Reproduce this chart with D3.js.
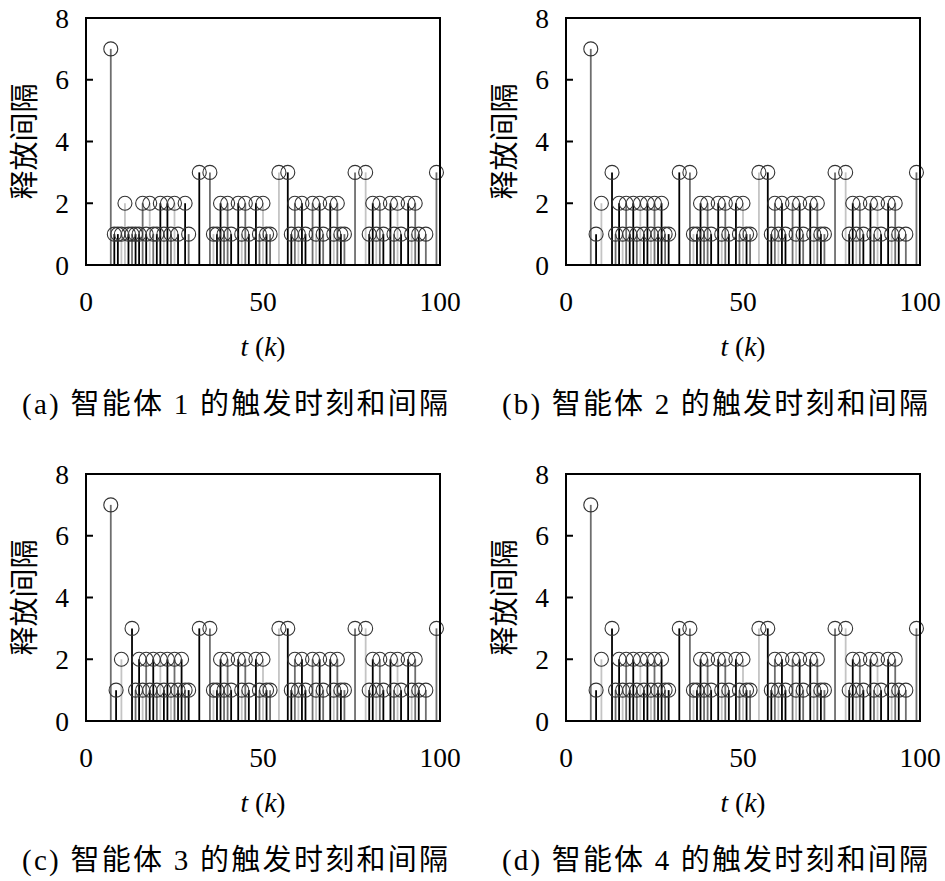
<!DOCTYPE html>
<html>
<head>
<meta charset="utf-8">
<script src="https://cdn.jsdelivr.net/npm/d3@7"></script>
<style>
  body { margin: 0; background: #fff; }
  svg { display: block; }
  .tick-label { font-family: "Liberation Serif", "Times New Roman", serif; font-size: 27.5px; }
  .ylab { font-family: "Noto Sans CJK SC", sans-serif; font-size: 29px; }
  .caption { font-family: "Liberation Serif", "Noto Sans CJK SC", serif; font-size: 29px; }
</style>
</head>
<body>
<div id="chart"></div>
<script>
// trigger times (k), release intervals, stem group (shade) for the first part of each panel
const headTimesA     = [7, 8, 9, 10, 11, 12, 13, 14, 15, 16, 17, 18, 19, 20, 21, 22, 23, 24, 25, 26, 28, 29];
const headIntervalsA = [7, 1, 1, 1,  2,  1,  1,  1,  1,  2,  1,  2,  1,  1,  2,  1,  2,  1,  2,  1,  2,  1];
const headGroupsA    = [1, 0, 0, 2,  2,  0,  1,  0,  0,  1,  0,  2,  1,  0,  0,  2,  0,  1,  2,  0,  0,  1];

const headTimesB     = [7, 8.5, 10, 13, 14, 15, 16, 17, 18, 19, 20, 21, 22, 23, 24, 25, 26, 27, 28, 29];
const headIntervalsB = [7, 1,   2,  3,  1,  2,  1,  2,  1,  2,  1,  2,  1,  2,  1,  2,  1,  2,  1,  1];
const headGroupsB    = [1, 0,   2,  0,  1,  0,  2,  1,  0,  0,  1,  2,  0,  0,  2,  1,  0,  0,  1,  0];

// remaining part, shared by the four agents
const tailTimes = [32, 35,
  36, 37, 38, 39, 40, 41, 43, 44, 45, 46, 48, 49, 50, 51, 52,
  54.5, 57,
  58, 59, 60, 61, 62, 64, 65, 66, 67, 69, 70, 71, 72, 73,
  76, 79,
  80, 81, 82, 83, 84, 86, 87, 88, 89, 91, 92, 93, 94, 96,
  99];
const tailIntervals = [3, 3,
  1, 1, 2, 1, 2, 1, 2, 1, 2, 1, 2, 1, 2, 1, 1,
  3, 3,
  1, 2, 1, 2, 1, 2, 1, 2, 1, 2, 1, 2, 1, 1,
  3, 3,
  1, 2, 1, 2, 1, 2, 1, 2, 1, 2, 1, 2, 1, 1,
  3];
const tailGroups = [0, 1,
  2, 0, 0, 1, 1, 0, 0, 2, 1, 0, 0, 1, 2, 0, 1,
  2, 0,
  0, 1, 2, 0, 0, 1, 2, 0, 1, 0, 2, 1, 0, 1,
  1, 2,
  0, 0, 2, 1, 0, 0, 1, 2, 0, 0, 2, 1, 0, 1,
  1];

const panelLetters = ['a', 'b', 'c', 'd'];
const agentIds = [1, 2, 3, 4];
const xTicks = [0, 50, 100];
const yTicks = [0, 2, 4, 6, 8];

const width = 945, height = 881;
const plotW = 354, plotH = 247;
const lefts = [86, 566, 86, 566];
const tops = [18, 18, 474, 474];

const svg = d3.select('#chart').append('svg')
    .attr('width', width)
    .attr('height', height);

const x = d3.scaleLinear().domain([0, 100]).range([0, plotW]);
const y = d3.scaleLinear().domain([0, 8]).range([plotH, 0]);
const shade = d3.scaleOrdinal().domain([0, 1, 2]).range(['#000000', '#6e6e6e', '#c4c4c4']);

function buildStems(times, intervals, groups)
{
    return times.map((t, i) => ({t: t, v: intervals[i], g: groups[i]}));
}

const tail = buildStems(tailTimes, tailIntervals, tailGroups);
const panelStems = [
    buildStems(headTimesA, headIntervalsA, headGroupsA).concat(tail),
    buildStems(headTimesB, headIntervalsB, headGroupsB).concat(tail),
    buildStems(headTimesB, headIntervalsB, headGroupsB).concat(tail),
    buildStems(headTimesB, headIntervalsB, headGroupsB).concat(tail)
];

panelLetters.forEach((letter, p) =>
{
    const g = svg.append('g')
        .attr('transform', `translate(${lefts[p]},${tops[p]})`);

    const stems = panelStems[p];

    // stems
    g.selectAll('.stem')
        .data(stems)
        .join('line')
        .classed('stem', true)
        .attr('x1', d => x(d.t))
        .attr('x2', d => x(d.t))
        .attr('y1', y(0))
        .attr('y2', d => y(d.v))
        .attr('stroke', d => shade(d.g))
        .attr('stroke-width', 1.8);

    // circle markers
    g.selectAll('.mark')
        .data(stems)
        .join('circle')
        .classed('mark', true)
        .attr('cx', d => x(d.t))
        .attr('cy', d => y(d.v))
        .attr('r', 7)
        .attr('fill', 'none')
        .attr('stroke', '#333')
        .attr('stroke-width', 1.1);

    // y ticks (inward)
    g.selectAll('.ytick')
        .data(yTicks)
        .join('line')
        .classed('ytick', true)
        .attr('x1', 0)
        .attr('x2', 7)
        .attr('y1', d => y(d))
        .attr('y2', d => y(d))
        .attr('stroke', '#000')
        .attr('stroke-width', 2);

    g.selectAll('.ylabel')
        .data(yTicks)
        .join('text')
        .attr('class', 'tick-label')
        .attr('x', -17)
        .attr('y', d => y(d))
        .attr('dy', '0.35em')
        .attr('text-anchor', 'end')
        .text(d => d);

    g.selectAll('.xlabel')
        .data(xTicks)
        .join('text')
        .attr('class', 'tick-label')
        .attr('x', d => x(d))
        .attr('y', plotH + 46)
        .attr('text-anchor', 'middle')
        .text(d => d);

    // frame
    g.append('rect')
        .attr('x', 0)
        .attr('y', 0)
        .attr('width', plotW)
        .attr('height', plotH)
        .attr('fill', 'none')
        .attr('stroke', '#000')
        .attr('stroke-width', 2);

    // axis titles
    const xt = g.append('text')
        .attr('class', 'tick-label')
        .attr('x', plotW / 2)
        .attr('y', plotH + 91)
        .attr('text-anchor', 'middle');
    xt.append('tspan').style('font-style', 'italic').text('t');
    xt.append('tspan').text(' (');
    xt.append('tspan').style('font-style', 'italic').text('k');
    xt.append('tspan').text(')');

    g.append('text')
        .attr('class', 'ylab')
        .attr('transform', `translate(-64,${plotH / 2}) rotate(-90)`)
        .attr('text-anchor', 'middle')
        .attr('dominant-baseline', 'central')
        .text('释放间隔');

    g.append('text')
        .attr('class', 'caption')
        .attr('x', -64)
        .attr('y', plotH + 149)
        .attr('textLength', 426)
        .attr('lengthAdjust', 'spacing')
        .text(`(${letter}) 智能体 ${agentIds[p]} 的触发时刻和间隔`);
});
</script>
</body>
</html>
